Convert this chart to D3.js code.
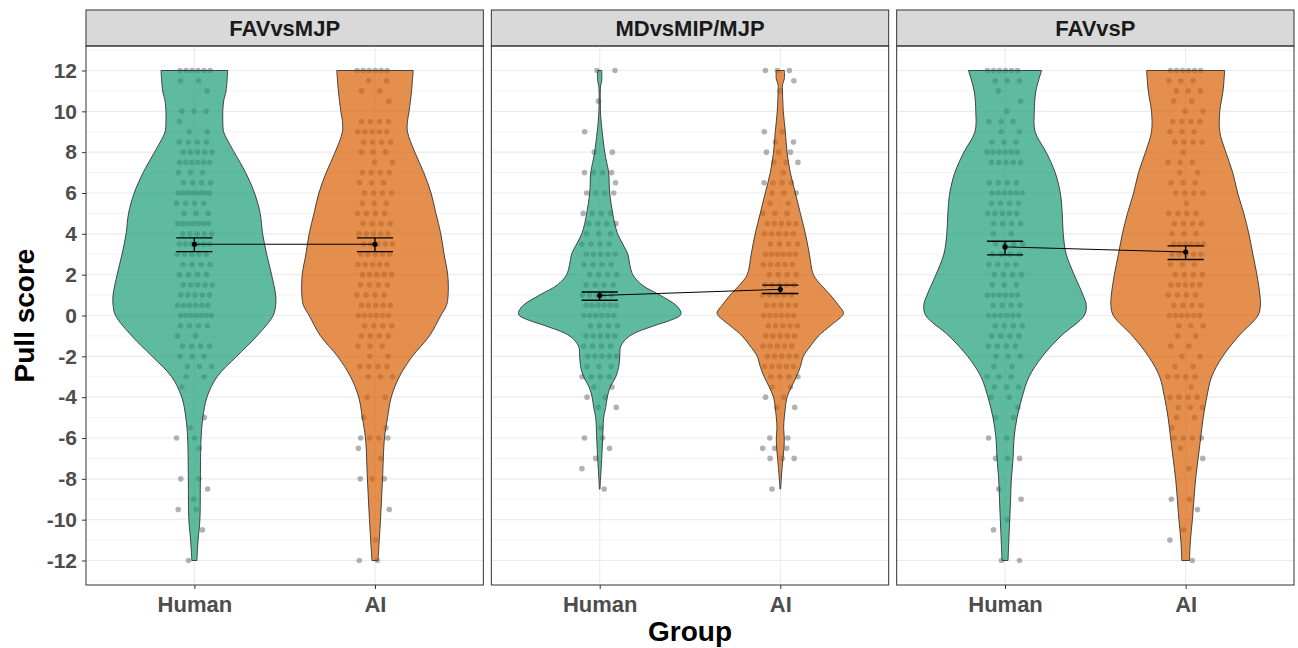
<!DOCTYPE html>
<html>
<head>
<meta charset="utf-8">
<script src="https://cdn.jsdelivr.net/npm/d3@7"></script>
<style>
  body { margin: 0; background: #fff; }
  text { font-family: "Liberation Sans", Arial, sans-serif; }
</style>
</head>
<body>
<svg id="chart" width="1298" height="648"></svg>
<script>
// facet names, groups, ticks
const panelNames = ["FAVvsMJP", "MDvsMIP/MJP", "FAVvsP"];
const groupNames = ["Human", "AI"];
const yTicks = [-12, -10, -8, -6, -4, -2, 0, 2, 4, 6, 8, 10, 12];
const minorTicks = [-13, -11, -9, -7, -5, -3, -1, 1, 3, 5, 7, 9, 11, 13];

// mean and standard error per panel: [Human, AI]
const meanScore = [[3.49, 3.49], [0.98, 1.28], [3.36, 3.11]];
const seLow = [[3.13, 3.13], [0.75, 1.08], [2.97, 2.74]];
const seHigh = [[3.80, 3.80], [1.15, 1.49], [3.64, 3.41]];

// violin outlines: [score, relative half width in %]
const violinFavMjpHuman = [[12,41],[11,39],[10.5,36],[10,35],[9.5,35],[9,36],[8.5,42],[8,49],[7,63],[6,74],[5,81],[4,84],[3,89],[2,95],[1,100],[0.5,100],[0,97],[-1,77],[-2,52],[-3,28],[-4,15.5],[-5,10.5],[-6,8.3],[-8,7.4],[-10,6.8],[-11,4.6],[-12,3.1]];
const violinFavMjpAI = [[12,47],[11,45],[10,42],[9.5,40],[9,40],[8,49],[7,60],[6,69],[5,75],[4,81],[3,85],[2,89.5],[1,90],[0.5,88],[0,81],[-1,67],[-2,46],[-3,30],[-4,20],[-5,15.5],[-6,11.7],[-8,9.3],[-10,6.8],[-12,3.7]];
const violinMdHuman = [[12,2.5],[11.5,2.5],[11.2,1],[10,1],[9.5,1.8],[9,3.1],[8,6.2],[7.5,8.6],[7,11],[6,12.3],[5,16],[4.5,18.5],[4,22],[3.5,28.4],[3,34.6],[2.5,37],[2,40.7],[1.5,52],[1,74],[0.5,94],[0.15,100],[0,99],[-0.25,86],[-0.5,67],[-1,37],[-1.5,26],[-2,24.7],[-2.5,23.5],[-3,19.8],[-3.5,13],[-4,9.3],[-4.5,7.4],[-5,4.9],[-6,3.7],[-7,2.5],[-8,1],[-8.5,0.4]];
const violinMdAI = [[12,5],[11.6,5],[11.3,2.7],[11,2.7],[10,3.7],[9,6.2],[8,8.3],[7,12.3],[6,18.5],[5,24.7],[4,30.9],[3,35.8],[2,40.7],[1.5,50],[1,61.7],[0.5,71.6],[0.15,77.8],[0,76.5],[-0.5,61.7],[-1,47],[-1.5,37],[-2,28.4],[-2.5,24.7],[-3,19.8],[-3.5,13.6],[-4,8.3],[-4.5,6.2],[-5,4.9],[-5.5,4.1],[-6,4.9],[-6.5,4.5],[-7,3.3],[-7.5,2.1],[-8,1.2],[-8.5,0.4]];
const violinFavPHuman = [[12,45],[11,38],[10,36],[9,37],[8,50.6],[7,61.7],[6,68],[5,70.4],[4,71.6],[3,75.3],[2,85],[1,96],[0.5,100],[0,97.5],[-1,69],[-2,46],[-3,29.6],[-4,21],[-5,14.8],[-6,11.1],[-7,9.9],[-8,7.8],[-9,6.8],[-10,5.8],[-11,4.7],[-12,3.7]];
const violinFavPAI = [[12,48],[11,46],[10,42],[9,42],[8,49.4],[7,58],[6,64],[5,71.6],[4,77.8],[3,82.7],[2,87.7],[1,91.4],[0.5,92],[0,89],[-1,65.4],[-2,45.7],[-3,32],[-4,26],[-5,21.6],[-6,18.5],[-7,15.4],[-8,12.3],[-9,10.2],[-10,8.3],[-11,5.9],[-12,4.7]];

// individual scores: [score, number of participants]
const dotsFavMjpHuman = [[12,6],[11.5,2],[11,1],[10,3],[9.5,1],[9,2],[8.5,4],[8,5],[7.5,6],[7,3],[6.5,4],[6,8],[5.5,4],[5,3],[4.5,7],[4,5],[3.5,6],[3,5],[2.5,4],[2,4],[1.5,5],[1,5],[0.5,6],[0,7],[-0.5,4],[-1,2],[-1.5,4],[-2,3],[-2.5,3],[-3,2],[-3.5,1],[-5,1],[-5.5,1],[-6,2],[-6.5,1],[-8,2],[-8.5,1],[-9,1],[-9.5,2],[-10.5,1],[-12,1]];
const dotsFavMjpAI = [[12,6],[11.5,2],[11,2],[10.5,1],[9.5,4],[9,5],[8.5,4],[8,3],[7.5,2],[7,4],[6.5,3],[6,4],[5.5,3],[5,4],[4.5,4],[4,5],[3.5,5],[3,5],[2.5,5],[2,5],[1.5,4],[1,4],[0.5,5],[0,6],[-0.5,4],[-1,4],[-1.5,3],[-2,2],[-2.5,4],[-3,3],[-4,2],[-5,1],[-5.5,1],[-6,4],[-6.5,1],[-7,1],[-8,3],[-9.5,1],[-11,1],[-12,2]];
const dotsMdHuman = [[12,2],[10.5,1],[9,1],[8,2],[7,4],[6.5,1],[6,4],[5,4],[4.5,4],[4,3],[3.5,4],[3,5],[2.5,4],[2,4],[1.5,4],[1,5],[0.5,6],[0,6],[-0.5,4],[-1,5],[-1.5,4],[-2,5],[-2.5,3],[-3,4],[-3.5,2],[-4,2],[-4.5,2],[-5.5,1],[-6,2],[-6.5,1],[-7,1],[-7.5,1],[-8.5,1]];
const dotsMdAI = [[12,3],[11.5,1],[11,1],[9,2],[8.5,2],[8,3],[7.5,3],[7,1],[6.5,4],[6,3],[5.5,2],[5,3],[4.5,5],[4,5],[3.5,4],[3,6],[2.5,5],[2,4],[1.5,5],[1,5],[0.5,5],[0,6],[-0.5,5],[-1,5],[-1.5,5],[-2,5],[-2.5,5],[-3,4],[-3.5,2],[-4,2],[-4.5,2],[-6,2],[-6.5,3],[-7,3],[-8.5,1]];
const dotsFavPHuman = [[12,6],[11.5,3],[11,1],[10.5,1],[10,1],[9.5,3],[9,2],[8.5,3],[8,6],[7.5,5],[6.5,4],[6,6],[5.5,4],[5,5],[4.5,4],[4,2],[3.5,4],[3,4],[2.5,4],[2,4],[1.5,3],[1,6],[0.5,4],[0,6],[-0.5,4],[-1,4],[-1.5,4],[-2,3],[-2.5,2],[-3,3],[-3.5,3],[-4,2],[-4.5,1],[-5,2],[-6,2],[-7,3],[-8.5,1],[-9,1],[-10,1],[-10.5,1],[-12,2]];
const dotsFavPAI = [[12,6],[11.5,3],[11,3],[10.5,2],[10,2],[9.5,4],[9,3],[8.5,4],[8,1],[7.5,3],[7,2],[6.5,3],[6,4],[5.5,1],[5,4],[4.5,4],[4,3],[3.5,6],[3,5],[2.5,3],[2,4],[1.5,5],[1,4],[0.5,4],[0,6],[-0.5,3],[-1,2],[-1.5,2],[-2,2],[-2.5,2],[-3,4],[-3.5,1],[-4,4],[-4.5,3],[-5,2],[-5.5,1],[-6,4],[-6.5,1],[-7,1],[-7.5,1],[-9,2],[-9.5,1],[-10.5,1],[-11,1],[-12,1]];

const violins = [[violinFavMjpHuman, violinFavMjpAI], [violinMdHuman, violinMdAI], [violinFavPHuman, violinFavPAI]];
const dots = [[dotsFavMjpHuman, dotsFavMjpAI], [dotsMdHuman, dotsMdAI], [dotsFavPHuman, dotsFavPAI]];
const fills = ["#1B9E77", "#D95F02"];

const svg = d3.select("#chart");
const plotLeft = 86, plotRight = 1294, gap = 8;
const stripTop = 10, plotTop = 46, plotBottom = 585;
const panelW = (plotRight - plotLeft - 2 * gap) / 3;

const y = d3.scaleLinear().domain([-13.2, 13.2]).range([plotBottom, plotTop]);

panelNames.forEach((name, p) => {
  const x0 = plotLeft + p * (panelW + gap);
  const x = d3.scalePoint().domain(groupNames).range([x0, x0 + panelW]).padding(0.6);
  const step = x.step();
  const halfW = d3.scaleLinear().domain([0, 100]).range([0, 0.45 * step]);
  const g = svg.append("g");

  // strip
  g.append("rect").attr("x", x0).attr("y", stripTop).attr("width", panelW).attr("height", plotTop - stripTop)
    .attr("fill", "#D9D9D9").attr("stroke", "#333").attr("stroke-width", 1);
  g.append("text").attr("x", x0 + panelW / 2).attr("y", (stripTop + plotTop) / 2).attr("dy", "0.36em")
    .attr("text-anchor", "middle").attr("font-size", 22).attr("font-weight", "bold").attr("fill", "#1A1A1A")
    .text(name);

  // grid
  g.selectAll(".minor").data(minorTicks).join("line")
    .attr("x1", x0).attr("x2", x0 + panelW).attr("y1", d => y(d)).attr("y2", d => y(d))
    .attr("stroke", "#EBEBEB").attr("stroke-width", 0.6);
  g.selectAll(".major").data(yTicks).join("line")
    .attr("x1", x0).attr("x2", x0 + panelW).attr("y1", d => y(d)).attr("y2", d => y(d))
    .attr("stroke", "#EBEBEB").attr("stroke-width", 1.1);
  g.selectAll(".vmajor").data(groupNames).join("line")
    .attr("x1", d => x(d)).attr("x2", d => x(d)).attr("y1", plotTop).attr("y2", plotBottom)
    .attr("stroke", "#EBEBEB").attr("stroke-width", 1.1);

  groupNames.forEach((grp, gi) => {
    const cx = x(grp);
    // jittered points (deterministic spread within +-0.1 of a category step)
    const pts = [];
    dots[p][gi].forEach(([v, n], r) => {
      const shift = ((r + 1) * 0.6180339 + p * 0.23 + gi * 0.41) % 1;
      for (let i = 0; i < n; i++) {
        const u = ((i + shift) / n) * 2 - 1;
        pts.push({ v: v, dx: u * 0.1 * step });
      }
    });
    g.selectAll(null).data(pts).join("circle")
      .attr("cx", d => cx + d.dx).attr("cy", d => y(d.v)).attr("r", 2.8)
      .attr("fill", "#7F7F7F").attr("fill-opacity", 0.6);

    const area = d3.area().curve(d3.curveCatmullRom)
      .y(d => y(d[0])).x0(d => cx - halfW(d[1])).x1(d => cx + halfW(d[1]));
    g.append("path").datum(violins[p][gi]).attr("d", area)
      .attr("fill", fills[gi]).attr("fill-opacity", 0.7)
      .attr("stroke", "#333").attr("stroke-width", 0.9);
  });

  // mean +- SE
  const means = groupNames.map((grp, gi) => ({ grp, m: meanScore[p][gi], lo: seLow[p][gi], hi: seHigh[p][gi] }));
  g.append("path").datum(means)
    .attr("d", d3.line().x(d => x(d.grp)).y(d => y(d.m)))
    .attr("fill", "none").attr("stroke", "#000").attr("stroke-width", 1);
  means.forEach(d => {
    const cx = x(d.grp), cap = 0.1 * step;
    g.append("line").attr("x1", cx).attr("x2", cx).attr("y1", y(d.lo)).attr("y2", y(d.hi))
      .attr("stroke", "#000").attr("stroke-width", 1.4);
    [d.lo, d.hi].forEach(v => g.append("line").attr("x1", cx - cap).attr("x2", cx + cap)
      .attr("y1", y(v)).attr("y2", y(v)).attr("stroke", "#000").attr("stroke-width", 1.4));
    g.append("circle").attr("cx", cx).attr("cy", y(d.m)).attr("r", 2.6).attr("fill", "#000");
  });

  // panel border
  g.append("rect").attr("x", x0).attr("y", plotTop).attr("width", panelW).attr("height", plotBottom - plotTop)
    .attr("fill", "none").attr("stroke", "#333").attr("stroke-width", 1);

  // x axis
  const xa = g.append("g").attr("transform", `translate(0,${plotBottom})`)
    .call(d3.axisBottom(x).tickSize(4).tickPadding(7));
  xa.select(".domain").remove();
  xa.selectAll("line").attr("stroke", "#333");
  xa.selectAll("text").attr("font-size", 22).attr("font-weight", "bold").attr("fill", "#4D4D4D")
    .attr("font-family", "'Liberation Sans', Arial, sans-serif");

  if (p === 0) {
    const ya = g.append("g").attr("transform", `translate(${x0},0)`)
      .call(d3.axisLeft(y).tickValues(yTicks).tickFormat(d => String(d)).tickSize(4).tickPadding(5));
    ya.select(".domain").remove();
    ya.selectAll("line").attr("stroke", "#333");
    ya.selectAll("text").attr("font-size", 21).attr("font-weight", "bold").attr("fill", "#4D4D4D")
      .attr("font-family", "'Liberation Sans', Arial, sans-serif");
  }
});

// axis titles
svg.append("text").attr("x", (plotLeft + plotRight) / 2).attr("y", 641).attr("text-anchor", "middle")
  .attr("font-size", 28).attr("font-weight", "bold").attr("fill", "#000").text("Group");
svg.append("text").attr("transform", `translate(34,${(plotTop + plotBottom) / 2}) rotate(-90)`).attr("text-anchor", "middle")
  .attr("font-size", 28).attr("font-weight", "bold").attr("fill", "#000").text("Pull score");
</script>
</body>
</html>
